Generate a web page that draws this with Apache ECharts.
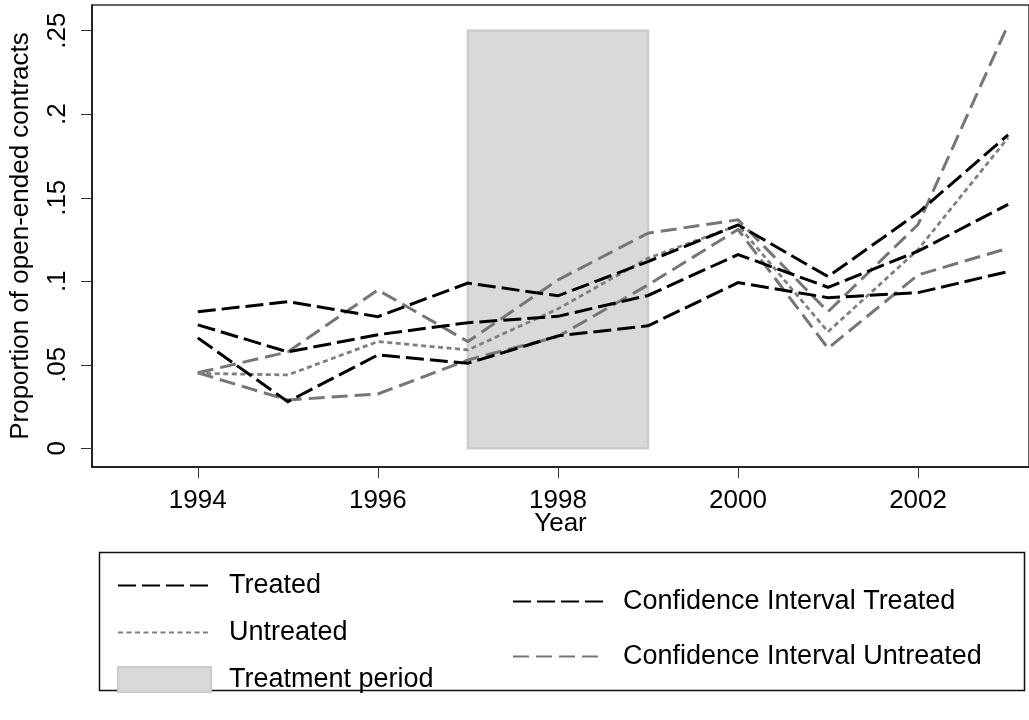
<!DOCTYPE html>
<html>
<head>
<meta charset="utf-8">
<script src="https://cdn.jsdelivr.net/npm/echarts@6/dist/echarts.min.js"></script>
<style>
html,body{margin:0;padding:0;background:#fff;}
#chart{width:1029px;height:720px;}
</style>
</head>
<body>
<div id="chart"></div>
<script>
const years = [1994, 1995, 1996, 1997, 1998, 1999, 2000, 2001, 2002, 2003];
const treated          = [0.0739, 0.0577, 0.0680, 0.0752, 0.0790, 0.0915, 0.1160, 0.0964, 0.1180, 0.1460];
const ciTreatedUpper   = [0.0817, 0.0878, 0.0788, 0.0989, 0.0913, 0.1118, 0.1338, 0.1028, 0.1410, 0.1877];
const ciTreatedLower   = [0.0661, 0.0279, 0.0559, 0.0509, 0.0673, 0.0733, 0.0992, 0.0902, 0.0932, 0.1058];
const untreated        = [0.0449, 0.0439, 0.0639, 0.0589, 0.0835, 0.1138, 0.1335, 0.0698, 0.1190, 0.1860];
const ciUntreatedUpper = [0.0452, 0.0577, 0.0948, 0.0639, 0.1008, 0.1288, 0.1368, 0.0818, 0.1340, 0.2536];
const ciUntreatedLower = [0.0452, 0.0289, 0.0325, 0.0529, 0.0669, 0.0978, 0.1310, 0.0599, 0.1038, 0.1198];
const treatmentPeriod = [1997, 1999];
const treatmentRange = [0, 0.25];
const xTickValues = [1994, 1996, 1998, 2000, 2002];
const yTickValues = [0, 0.05, 0.1, 0.15, 0.2, 0.25];
const yTickLabels = ['0', '.05', '.1', '.15', '.2', '.25'];

const FONT = 'Liberation Sans, Arial, sans-serif';
const pairs = arr => years.map((y, i) => [y, arr[i]]);

function lineSeries(name, data, color, dash, width) {
  return {
    name: name, type: 'line', data: pairs(data),
    symbol: 'none', showSymbol: false, silent: true, animation: false,
    lineStyle: { color: color, width: width, type: dash, cap: 'butt', join: 'miter' },
    itemStyle: { color: color }, z: 3
  };
}

const hiddenSymbol = { opacity: 0, borderWidth: 0 };

const chart = echarts.init(document.getElementById('chart'), null, { renderer: 'canvas' });
chart.setOption({
  backgroundColor: '#fff',
  animation: false,
  textStyle: { fontFamily: FONT },
  grid: { left: 90, top: 5, width: 945, height: 462, show: true, borderColor: '#333', borderWidth: 1.5, backgroundColor: 'transparent' },
  xAxis: {
    type: 'value', min: 1992.825, max: 2003.232,
    name: 'Year', nameLocation: 'middle', nameGap: 44, nameMoveOverlap: false,
    nameTextStyle: { fontSize: 26, color: '#000', fontFamily: FONT },
    axisLine: { show: true, onZero: false, lineStyle: { color: '#111', width: 1.5 } },
    axisTick: { show: true, length: 11, lineStyle: { color: '#333', width: 1 }, customValues: xTickValues },
    axisLabel: { fontSize: 26, color: '#000', margin: 21, fontFamily: FONT, customValues: xTickValues, formatter: v => String(v) },
    splitLine: { show: false }
  },
  yAxis: {
    type: 'value', min: -0.0112, max: 0.2654,
    name: 'Proportion of open-ended contracts', nameLocation: 'middle', nameGap: 58, nameRotate: 90,
    nameTextStyle: { fontSize: 26, color: '#000', fontFamily: FONT },
    axisLine: { show: true, onZero: false, lineStyle: { color: '#111', width: 1.5 } },
    axisTick: { show: true, length: 11, lineStyle: { color: '#333', width: 1 }, customValues: yTickValues },
    axisLabel: { fontSize: 26, color: '#000', margin: 21, rotate: 90, fontFamily: FONT, customValues: yTickValues,
      formatter: v => { const i = yTickValues.findIndex(t => Math.abs(t - v) < 1e-9); return i >= 0 ? yTickLabels[i] : ''; } },
    splitLine: { show: false }
  },
  legend: [
    {
      data: ['Treated', 'Untreated', { name: 'Treatment period', icon: 'rect', itemStyle: { color: '#d9d9d9', borderColor: '#cccccc', borderWidth: 2, opacity: 1 } }],
      orient: 'vertical', left: 112, top: 567, itemWidth: 93, itemHeight: 25, itemGap: 20,
      selectedMode: false,
      itemStyle: hiddenSymbol,
      textStyle: { fontSize: 27, color: '#000', fontFamily: FONT, padding: [0, 0, 0, 13] }
    },
    {
      data: ['Confidence Interval Treated', 'Confidence Interval Untreated'],
      orient: 'vertical', left: 507, top: 583, itemWidth: 92, itemHeight: 25, itemGap: 28,
      selectedMode: false,
      itemStyle: hiddenSymbol,
      textStyle: { fontSize: 27, color: '#000', fontFamily: FONT, padding: [0, 0, 0, 13] }
    }
  ],
  graphic: [
    { type: 'rect', left: 97, top: 550, shape: { width: 925, height: 138 }, style: { fill: 'none', stroke: '#111', lineWidth: 1.5 }, z: 0 }
  ],
  series: [
    {
      name: 'Treatment period', type: 'custom', silent: true, animation: false, z: 1,
      data: [[treatmentPeriod[0], treatmentPeriod[1], treatmentRange[0], treatmentRange[1]]],
      encode: { x: [0, 1], y: [2, 3] },
      itemStyle: { color: '#d9d9d9' },
      renderItem: function (params, api) {
        const p0 = api.coord([api.value(0), api.value(3)]);
        const p1 = api.coord([api.value(1), api.value(2)]);
        return { type: 'rect', shape: { x: p0[0], y: p0[1], width: p1[0] - p0[0], height: p1[1] - p0[1] },
          style: { fill: '#d9d9d9', stroke: '#cccccc', lineWidth: 2.5 } };
      }
    },
    lineSeries('Confidence Interval Untreated', ciUntreatedUpper, '#767676', [16, 7], 3),
    lineSeries('Confidence Interval Untreated', ciUntreatedLower, '#767676', [16, 7], 3),
    lineSeries('Untreated', untreated, '#7f7f7f', [5, 3.5], 2.8),
    lineSeries('Confidence Interval Treated', ciTreatedUpper, '#000', [18, 6], 3),
    lineSeries('Confidence Interval Treated', ciTreatedLower, '#000', [18, 6], 3),
    lineSeries('Treated', treated, '#000', [18, 6], 3)
  ]
});
</script>
</body>
</html>
